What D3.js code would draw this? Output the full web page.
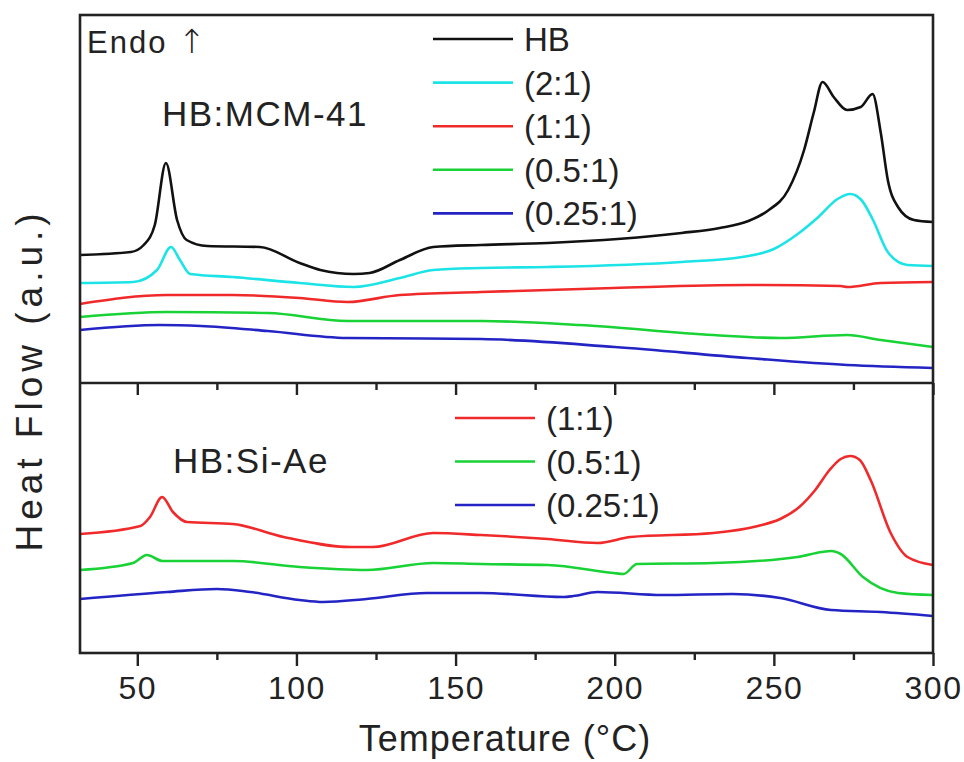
<!DOCTYPE html>
<html>
<head>
<meta charset="utf-8">
<script src="https://d3js.org/d3.v7.min.js"></script>
<style>
  body { margin: 0; background: #fff; }
  text { font-family: "Liberation Sans", Arial, sans-serif; fill: #222; }
  .line { fill: none; stroke-width: 2.6; stroke-linejoin: round; }
</style>
</head>
<body>
<div id="chart"></div>
<script>
// temperature (°C), heat flow (a.u., offset per trace)
var hb = [[32,12.8],[48,13.1],[52,13.8],[55.5,15.8],[59,22.0],[62.5,16.3],[65.5,14.3],[72,13.7],[88.5,13.6],[101,12.0],[107.5,11.3],[118,10.9],[123,11.0],[132.5,12.3],[143,13.6],[158,13.8],[179,14.0],[221,15.0],[233,15.5],[242,16.2],[248,17.2],[254.5,19.3],[259.5,23.3],[262.5,27.0],[265.3,30.1],[268.8,28.6],[273,27.3],[277.3,27.6],[281,28.9],[283.6,25.0],[285.8,20.3],[289,17.6],[294,16.3],[300,16.1]];
var mcm21 = [[32,10.0],[48.7,10.1],[56.2,11.3],[60.6,13.6],[63.4,12.3],[66.6,10.9],[80,10.6],[101,10.0],[118,9.6],[132.5,10.5],[143,11.3],[158,11.5],[179,11.6],[221,12.1],[240,12.6],[250,13.4],[257.5,14.9],[264,16.6],[270,18.4],[274,18.9],[277.5,18.3],[281,16.4],[286,13.0],[292,11.8],[300,11.7]];
var mcm11 = [[32,7.9],[59.4,8.8],[80,8.8],[101,8.5],[116,8.1],[132.5,8.8],[158,9.1],[199.6,9.5],[241.7,9.8],[271,9.7],[273,9.6],[283.6,10.0],[300,10.1]];
var mcm051 = [[32,6.6],[59.4,7.1],[91,7.0],[116,6.2],[158,6.2],[189,5.8],[231,4.8],[252,4.5],[273,4.8],[283.6,4.3],[300,3.6]];
var mcm0251 = [[32,5.3],[57,5.8],[70,5.7],[91,5.2],[116,4.5],[158,4.4],[200,3.6],[241.7,2.5],[273,1.8],[300,1.5]];

var si11 = [[32,11.9],[51,12.7],[54,13.6],[57.8,15.6],[61.2,14.1],[65.6,13.1],[80,12.9],[96,11.6],[117,10.6],[124,10.6],[143,12.0],[158,11.8],[179,11.4],[194.6,11.0],[205,11.6],[231,12.0],[245,12.7],[252,13.4],[258,14.6],[263,16.3],[267.5,18.3],[271,19.4],[274,19.7],[277,19.3],[280.4,17.3],[286.7,12.0],[292,9.6],[300,8.8]];
var si051 = [[32,8.3],[48.7,9.0],[53,9.8],[58,9.2],[80,9.2],[101,8.6],[122,8.3],[143,9.0],[158,8.9],[179,8.8],[199.6,8.0],[202.8,7.9],[207,8.9],[231,9.0],[257.5,9.6],[265,10.1],[268,10.2],[271,9.9],[278,7.6],[289,6.0],[300,5.8]];
var si0251 = [[32,5.4],[59.4,6.1],[75,6.4],[85.5,6.1],[101,5.3],[108.4,5.1],[122,5.4],[141,6.0],[158,6.0],[184,5.6],[187,5.7],[194.6,6.1],[215,5.8],[237,5.9],[252,5.5],[268,4.3],[283.6,4.1],[300,3.7]];

var topNames = ["HB", "(2:1)", "(1:1)", "(0.5:1)", "(0.25:1)"];
var topColors = ["#111111", "#1ce4e6", "#f02a2a", "#18d236", "#2424c4"];
var botNames = ["(1:1)", "(0.5:1)", "(0.25:1)"];
var botColors = ["#f02a2a", "#18d236", "#2424c4"];
var majorTicks = [50, 100, 150, 200, 250, 300];
var minorTicks = [75, 125, 175, 225, 275];

var width = 964, height = 762;
var plotLeft = 80, plotRight = 933, plotTop = 15, plotMid = 383, plotBottom = 653;

var svg = d3.select("#chart").append("svg")
    .attr("width", width)
    .attr("height", height);

var x = d3.scaleLinear().domain([32, 300]).range([plotLeft, plotRight]);
var yTop = d3.scaleLinear().domain([0, 36.8]).range([plotMid, plotTop]);
var yBot = d3.scaleLinear().domain([0, 27]).range([plotBottom, plotMid]);

function drawLines(data, colors, y) {
    var line = d3.line()
        .x(function (d) { return x(d[0]); })
        .y(function (d) { return y(d[1]); })
        .curve(d3.curveMonotoneX);
    data.forEach(function (s, i) {
        svg.append("path")
            .datum(s)
            .attr("class", "line")
            .attr("stroke", colors[i])
            .attr("d", line);
    });
}

drawLines([hb, mcm21, mcm11, mcm051, mcm0251], topColors, yTop);
drawLines([si11, si051, si0251], botColors, yBot);

// frame
svg.append("rect")
    .attr("x", plotLeft).attr("y", plotTop)
    .attr("width", plotRight - plotLeft).attr("height", plotBottom - plotTop)
    .attr("fill", "none").attr("stroke", "#222").attr("stroke-width", 2.6);
svg.append("line")
    .attr("x1", plotLeft).attr("x2", plotRight).attr("y1", plotMid).attr("y2", plotMid)
    .attr("stroke", "#222").attr("stroke-width", 2.6);

// bottom axis, ticks outward
var xAxis = svg.append("g")
    .attr("transform", "translate(0," + plotBottom + ")")
    .call(d3.axisBottom(x).tickValues(majorTicks).tickSize(13).tickPadding(10).tickSizeOuter(0));
xAxis.select(".domain").remove();
xAxis.selectAll(".tick line").attr("stroke", "#222").attr("stroke-width", 2.4);
xAxis.selectAll(".tick text")
    .style("font-size", "32px")
    .style("letter-spacing", "1.5px")
    .attr("fill", "#222");

var xMinor = svg.append("g")
    .attr("transform", "translate(0," + plotBottom + ")")
    .call(d3.axisBottom(x).tickValues(minorTicks).tickSize(7).tickFormat(""));
xMinor.select(".domain").remove();
xMinor.selectAll(".tick line").attr("stroke", "#222").attr("stroke-width", 2.4);

// ticks on panel divider pointing into lower panel
var midMajor = svg.append("g")
    .attr("transform", "translate(0," + plotMid + ")")
    .call(d3.axisBottom(x).tickValues(majorTicks).tickSize(12).tickFormat(""));
midMajor.select(".domain").remove();
midMajor.selectAll(".tick line").attr("stroke", "#222").attr("stroke-width", 2.4);
var midMinor = svg.append("g")
    .attr("transform", "translate(0," + plotMid + ")")
    .call(d3.axisBottom(x).tickValues(minorTicks).tickSize(7).tickFormat(""));
midMinor.select(".domain").remove();
midMinor.selectAll(".tick line").attr("stroke", "#222").attr("stroke-width", 2.4);

// legends
function legend(names, colors, x0, x1, y0, step) {
    names.forEach(function (n, i) {
        var yy = y0 + i * step;
        svg.append("line")
            .attr("x1", x0).attr("x2", x1).attr("y1", yy).attr("y2", yy)
            .attr("stroke", colors[i]).attr("stroke-width", 2.6);
        svg.append("text")
            .attr("x", x1 + 11).attr("y", yy + 12)
            .style("font-size", "33px")
            .text(n);
    });
}
legend(topNames, topColors, 433, 513, 39, 43.6);
legend(botNames, botColors, 455, 535, 418, 43.5);

// annotations
var endo = svg.append("text").attr("x", 87).attr("y", 53)
    .style("font-size", "31px").style("letter-spacing", "2px");
endo.append("tspan").text("Endo ");
endo.append("tspan").style("font-family", "DejaVu Sans").style("font-weight", "200")
    .style("font-size", "33px").text("\u2191");
svg.append("text").attr("x", 162).attr("y", 126)
    .style("font-size", "35px").style("letter-spacing", "1.5px")
    .text("HB:MCM-41");
svg.append("text").attr("x", 173).attr("y", 473)
    .style("font-size", "35px").style("letter-spacing", "1.5px")
    .text("HB:Si-Ae");

// axis titles
svg.append("text")
    .attr("x", 505).attr("y", 751)
    .attr("text-anchor", "middle")
    .style("font-size", "36px").style("letter-spacing", "1px")
    .text("Temperature (\u00b0C)");
svg.append("text")
    .attr("transform", "translate(42,380) rotate(-90)")
    .attr("text-anchor", "middle")
    .style("font-size", "37px").style("letter-spacing", "5px")
    .text("Heat Flow (a.u.)");
</script>
</body>
</html>
